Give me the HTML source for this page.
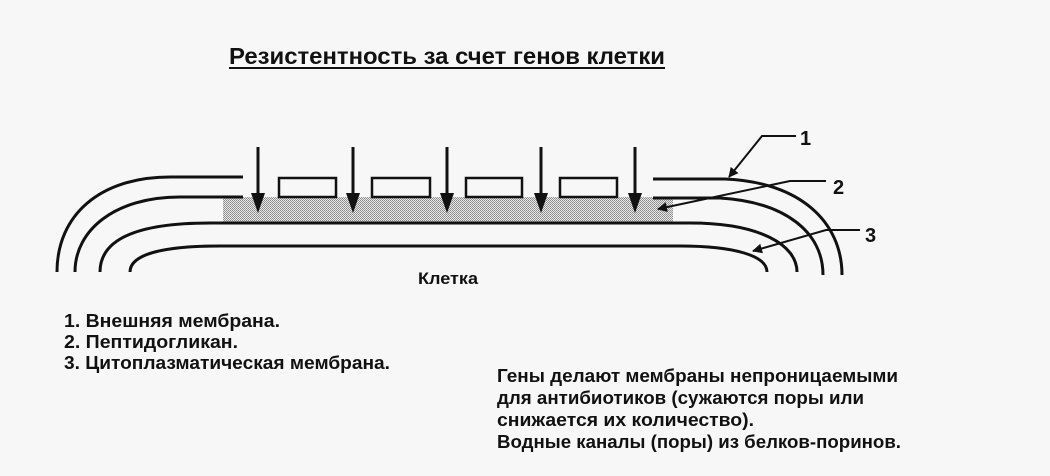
<!DOCTYPE html>
<html><head><meta charset="utf-8"><style>
html,body{margin:0;padding:0;background:#f7f7f7;}
svg{display:block}
text{font-family:"Liberation Sans",sans-serif;font-weight:bold;fill:#111;}
</style></head><body>
<svg width="1050" height="476" viewBox="0 0 1050 476" xmlns="http://www.w3.org/2000/svg">
<defs>
<pattern id="dots" width="2" height="2" patternUnits="userSpaceOnUse">
<rect width="2" height="2" fill="#e8e8e8"/><rect width="1" height="1" fill="#888"/><rect x="1" y="1" width="1" height="1" fill="#999"/>
</pattern>
<marker id="ah" markerWidth="10" markerHeight="10" refX="9" refY="5" orient="auto" markerUnits="userSpaceOnUse">
<path d="M0,0 L10,5 L0,10 Z" fill="#111"/>
</marker>
</defs>
<rect width="1050" height="476" fill="#f7f7f7"/>
<text x="229" y="64" font-size="23" textLength="436" lengthAdjust="spacingAndGlyphs">Резистентность за счет генов клетки</text>
<rect x="229" y="67" width="436" height="2" fill="#111"/>

<rect x="223" y="197" width="450" height="26" fill="url(#dots)"/>

<g fill="none" stroke="#111" stroke-width="3">
<path d="M243,177 L170,177 C100,177 57,215 57,272"/>
<path d="M243,197 L180,197 C115,197 75,230 75,272"/>
<path d="M100,272 C100,240 135,223 210,223 L690,223 C760,223 797,245 797,272"/>
<path d="M130,272 C130,255 160,246 220,246 L680,246 C735,246 767,256 767,272"/>
<path d="M653,179 L725,179 C800,182 842,222 842,275"/>
<path d="M653,198 L720,198 C785,202 823,232 823,275"/>
</g>
<g fill="none" stroke="#111" stroke-width="2.5">
<rect x="279" y="178" width="57" height="19"/>
<rect x="372" y="178" width="58" height="19"/>
<rect x="466" y="178" width="56" height="19"/>
<rect x="560" y="178" width="57" height="19"/>
</g>
<g stroke="#111" stroke-width="3">
<line x1="258" y1="147" x2="258" y2="200"/>
<line x1="353" y1="147" x2="353" y2="200"/>
<line x1="447" y1="147" x2="447" y2="200"/>
<line x1="541" y1="147" x2="541" y2="200"/>
<line x1="635" y1="147" x2="635" y2="200"/>
</g>
<g fill="#111">
<path d="M251,193 L265,193 L258,213 Z"/>
<path d="M346,193 L360,193 L353,213 Z"/>
<path d="M440,193 L454,193 L447,213 Z"/>
<path d="M534,193 L548,193 L541,213 Z"/>
<path d="M628,193 L642,193 L635,213 Z"/>
</g>
<g fill="none" stroke="#111" stroke-width="2">
<polyline points="796,136 762,136 729,177" marker-end="url(#ah)"/>
<polyline points="826,181 790,181 658,209" marker-end="url(#ah)"/>
<polyline points="860,230 826,230 753,251" marker-end="url(#ah)"/>
</g>
<text x="800" y="145" font-size="20">1</text>
<text x="833" y="194" font-size="20">2</text>
<text x="865" y="242" font-size="20">3</text>
<text x="418" y="284" font-size="17" textLength="60" lengthAdjust="spacingAndGlyphs">Клетка</text>

<text x="64" y="327" font-size="18" textLength="216" lengthAdjust="spacingAndGlyphs">1. Внешняя мембрана.</text>
<text x="64" y="348" font-size="18" textLength="174" lengthAdjust="spacingAndGlyphs">2. Пептидогликан.</text>
<text x="64" y="369" font-size="18" textLength="326" lengthAdjust="spacingAndGlyphs">3. Цитоплазматическая мембрана.</text>

<text x="497" y="382" font-size="18" textLength="401" lengthAdjust="spacingAndGlyphs">Гены делают мембраны непроницаемыми</text>
<text x="497" y="404" font-size="18" textLength="367" lengthAdjust="spacingAndGlyphs">для антибиотиков (сужаются поры или</text>
<text x="497" y="426" font-size="18" textLength="257" lengthAdjust="spacingAndGlyphs">снижается их количество).</text>
<text x="497" y="448" font-size="18" textLength="404" lengthAdjust="spacingAndGlyphs">Водные каналы (поры) из белков-поринов.</text>
</svg>
</body></html>
